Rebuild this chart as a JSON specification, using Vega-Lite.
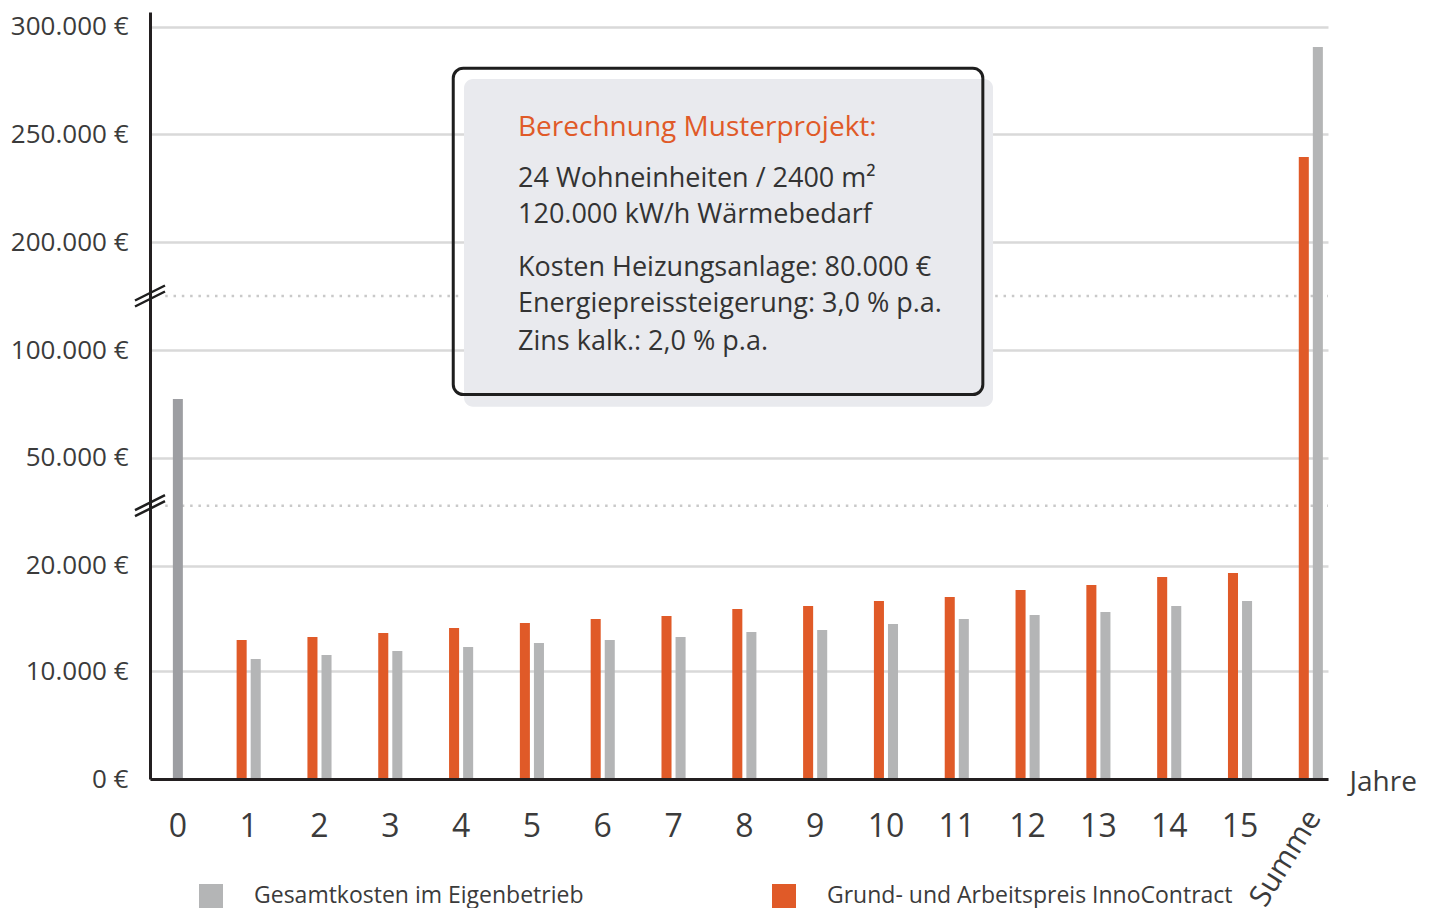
{
  "$schema": "https://vega.github.io/schema/vega-lite/v6.json",
  "width": 1178,
  "height": 767,
  "autosize": {"type": "none"},
  "padding": {"left": 150, "top": 12, "right": 104, "bottom": 129},
  "background": "white",
  "config": {
    "view": {"stroke": null},
    "font": "Open Sans",
    "text": {"font": "Open Sans"}
  },
  "datasets": {
    "kosten": [
      {"Jahr": "0", "Serie": "Gesamtkosten im Eigenbetrieb", "Wert": 77250},
      {"Jahr": "1", "Serie": "Grund- und Arbeitspreis InnoContract", "Wert": 12940},
      {"Jahr": "1", "Serie": "Gesamtkosten im Eigenbetrieb", "Wert": 11140},
      {"Jahr": "2", "Serie": "Grund- und Arbeitspreis InnoContract", "Wert": 13220},
      {"Jahr": "2", "Serie": "Gesamtkosten im Eigenbetrieb", "Wert": 11520},
      {"Jahr": "3", "Serie": "Grund- und Arbeitspreis InnoContract", "Wert": 13600},
      {"Jahr": "3", "Serie": "Gesamtkosten im Eigenbetrieb", "Wert": 11900},
      {"Jahr": "4", "Serie": "Grund- und Arbeitspreis InnoContract", "Wert": 14080},
      {"Jahr": "4", "Serie": "Gesamtkosten im Eigenbetrieb", "Wert": 12280},
      {"Jahr": "5", "Serie": "Grund- und Arbeitspreis InnoContract", "Wert": 14550},
      {"Jahr": "5", "Serie": "Gesamtkosten im Eigenbetrieb", "Wert": 12650},
      {"Jahr": "6", "Serie": "Grund- und Arbeitspreis InnoContract", "Wert": 14930},
      {"Jahr": "6", "Serie": "Gesamtkosten im Eigenbetrieb", "Wert": 12940},
      {"Jahr": "7", "Serie": "Grund- und Arbeitspreis InnoContract", "Wert": 15210},
      {"Jahr": "7", "Serie": "Gesamtkosten im Eigenbetrieb", "Wert": 13220},
      {"Jahr": "8", "Serie": "Grund- und Arbeitspreis InnoContract", "Wert": 15880},
      {"Jahr": "8", "Serie": "Gesamtkosten im Eigenbetrieb", "Wert": 13700},
      {"Jahr": "9", "Serie": "Grund- und Arbeitspreis InnoContract", "Wert": 16160},
      {"Jahr": "9", "Serie": "Gesamtkosten im Eigenbetrieb", "Wert": 13890},
      {"Jahr": "10", "Serie": "Grund- und Arbeitspreis InnoContract", "Wert": 16640},
      {"Jahr": "10", "Serie": "Gesamtkosten im Eigenbetrieb", "Wert": 14460},
      {"Jahr": "11", "Serie": "Grund- und Arbeitspreis InnoContract", "Wert": 17010},
      {"Jahr": "11", "Serie": "Gesamtkosten im Eigenbetrieb", "Wert": 14930},
      {"Jahr": "12", "Serie": "Grund- und Arbeitspreis InnoContract", "Wert": 17680},
      {"Jahr": "12", "Serie": "Gesamtkosten im Eigenbetrieb", "Wert": 15310},
      {"Jahr": "13", "Serie": "Grund- und Arbeitspreis InnoContract", "Wert": 18150},
      {"Jahr": "13", "Serie": "Gesamtkosten im Eigenbetrieb", "Wert": 15590},
      {"Jahr": "14", "Serie": "Grund- und Arbeitspreis InnoContract", "Wert": 18910},
      {"Jahr": "14", "Serie": "Gesamtkosten im Eigenbetrieb", "Wert": 16160},
      {"Jahr": "15", "Serie": "Grund- und Arbeitspreis InnoContract", "Wert": 19290},
      {"Jahr": "15", "Serie": "Gesamtkosten im Eigenbetrieb", "Wert": 16640},
      {"Jahr": "Summe", "Serie": "Grund- und Arbeitspreis InnoContract", "Wert": 239450},
      {"Jahr": "Summe", "Serie": "Gesamtkosten im Eigenbetrieb", "Wert": 290570}
    ]
  },
  "resolve": {"scale": {"x": "independent"}},
  "layer": [
    {
      "data": {"values": [{"Bruch": 150000}, {"Bruch": 36640}]},
      "mark": {"type": "rule", "color": "#c9c9c9", "strokeWidth": 2.5, "strokeDash": [2.5, 5.8]},
      "encoding": {
        "x": {"datum": -0.18, "type": "quantitative", "scale": {"domain": [-0.395, 16.243], "nice": false, "zero": false}, "axis": null},
        "x2": {"datum": 16.243},
        "y": {"field": "Bruch", "type": "quantitative", "title": null, "scale": {"domain": [0, 10000, 20000, 50000, 100000, 200000, 306830], "range": [767, 659, 553.5, 445.7, 338, 230, 0], "nice": false, "zero": false}}
      }
    },
    {
      "data": {"name": "kosten"},
      "layer": [
        {
          "transform": [{"filter": "datum.Jahr !== '0'"}],
          "mark": {"type": "bar"},
          "encoding": {
            "x": {
              "field": "Jahr", "type": "nominal",
              "scale": {"domain": ["0","1","2","3","4","5","6","7","8","9","10","11","12","13","14","15","Summe"], "paddingInner": 0.6, "paddingOuter": 0.118, "align": 0.82},
              "axis": {
                "title": "Jahre", "titleX": 1199, "titleY": 11, "titleAlign": "left", "titleBaseline": "alphabetic", "titleAngle": 0,
                "titleFontSize": 28, "titleFontWeight": "normal", "titleColor": "#3b3b3b", "titleFont": "Open Sans",
                "labelExpr": "datum.value === 'Summe' ? '' : datum.label",
                "labelFont": "Open Sans", "labelFontSize": 32, "labelColor": "#3b3b3b", "labelPadding": 32, "labelAngle": 0,
                "labelOverlap": false, "labelBound": false, "labelFlush": false,
                "ticks": false, "domainColor": "#231f20", "domainWidth": 3, "zindex": 1, "grid": false
              }
            },
            "xOffset": {"field": "Serie", "type": "nominal", "scale": {"domain": ["Grund- und Arbeitspreis InnoContract", "Gesamtkosten im Eigenbetrieb"], "paddingInner": 0.286, "paddingOuter": 0.15}},
            "y": {
              "field": "Wert", "type": "quantitative", "title": null,
              "scale": {"domain": [0, 10000, 20000, 50000, 100000, 200000, 306830], "range": [767, 659, 553.5, 445.7, 338, 230, 0], "nice": false, "zero": false},
              "axis": {
                "values": [0, 10000, 20000, 50000, 100000, 200000, 250000, 300000],
                "labelExpr": "replace(format(datum.value, ',d'), ',', '.') + ' €'",
                "labelFont": "Open Sans", "labelFontSize": 26, "labelColor": "#3b3b3b", "labelPadding": 22,
                "labelOverlap": false, "labelBound": false, "labelFlush": false,
                "ticks": false, "domainColor": "#231f20", "domainWidth": 3,
                "grid": true, "gridColor": "#d9d9d9", "gridWidth": 2.5, "title": null
              }
            },
            "color": {
              "field": "Serie", "type": "nominal",
              "scale": {"domain": ["Gesamtkosten im Eigenbetrieb", "Grund- und Arbeitspreis InnoContract"], "range": ["#b4b5b6", "#e05a28"]},
              "legend": {
                "orient": "none", "legendX": 49, "legendY": 872, "direction": "horizontal", "title": null,
                "symbolType": "square", "symbolSize": 576, "symbolStrokeWidth": 0, "symbolOpacity": 1,
                "labelFont": "Open Sans", "labelFontSize": 23, "labelColor": "#3b3b3b", "labelOffset": 31,
                "columnPadding": 188, "padding": 0, "labelLimit": 600
              }
            }
          }
        },
        {
          "transform": [{"filter": "datum.Jahr === '0'"}],
          "mark": {"type": "bar", "color": "#9d9ea2", "width": 10},
          "encoding": {
            "x": {"field": "Jahr", "type": "nominal", "scale": {"domain": ["0","1","2","3","4","5","6","7","8","9","10","11","12","13","14","15","Summe"], "paddingInner": 0.6, "paddingOuter": 0.118, "align": 0.82}},
            "y": {"field": "Wert", "type": "quantitative", "title": null, "scale": {"domain": [0, 10000, 20000, 50000, 100000, 200000, 306830], "range": [767, 659, 553.5, 445.7, 338, 230, 0], "nice": false, "zero": false}}
          }
        },
        {
          "data": {"values": [{"Jahr": "Summe"}]},
          "mark": {"type": "text", "angle": -58, "align": "right", "baseline": "middle", "dx": -27, "dy": 21, "fontSize": 30, "color": "#3b3b3b"},
          "encoding": {
            "text": {"field": "Jahr"},
            "x": {"field": "Jahr", "type": "nominal", "scale": {"domain": ["0","1","2","3","4","5","6","7","8","9","10","11","12","13","14","15","Summe"], "paddingInner": 0.6, "paddingOuter": 0.118, "align": 0.82}},
            "y": {"datum": 0, "type": "quantitative", "scale": {"domain": [0, 10000, 20000, 50000, 100000, 200000, 306830], "range": [767, 659, 553.5, 445.7, 338, 230, 0], "nice": false, "zero": false}}
          }
        }
      ]
    },
    {
      "layer": [
        {
          "data": {"values": [{"Kasten": "Berechnung Musterprojekt"}]},
          "mark": {"type": "rect", "fill": "#e9eaee", "cornerRadius": 9},
          "encoding": {
            "x": {"datum": 4.04, "type": "quantitative", "scale": {"domain": [-0.395, 16.243], "nice": false, "zero": false}, "axis": null},
            "x2": {"datum": 11.512},
            "y": {"datum": 275708, "type": "quantitative", "title": null, "scale": {"domain": [0, 10000, 20000, 50000, 100000, 200000, 306830], "range": [767, 659, 553.5, 445.7, 338, 230, 0], "nice": false, "zero": false}},
            "y2": {"datum": 73677}
          }
        },
        {
          "data": {"values": [{"Kasten": "Berechnung Musterprojekt"}]},
          "mark": {"type": "rect", "fill": null, "fillOpacity": 0, "stroke": "#1e1e1e", "strokeWidth": 3, "cornerRadius": 10},
          "encoding": {
            "x": {"datum": 3.888, "type": "quantitative"},
            "x2": {"datum": 11.368},
            "y": {"datum": 280724, "type": "quantitative"},
            "y2": {"datum": 79341}
          }
        },
        {
          "data": {"values": [{"Zeile": "Berechnung Musterprojekt:"}]},
          "mark": {"type": "text", "align": "left", "baseline": "alphabetic", "fontSize": 28, "color": "#e05a28"},
          "encoding": {"text": {"field": "Zeile"}, "x": {"datum": 4.803, "type": "quantitative"}, "y": {"datum": 249234, "type": "quantitative"}}
        },
        {
          "data": {"values": [{"Zeile": "24 Wohneinheiten / 2400 m²"}]},
          "mark": {"type": "text", "align": "left", "baseline": "alphabetic", "fontSize": 27, "color": "#333333"},
          "encoding": {"text": {"field": "Zeile"}, "x": {"datum": 4.803, "type": "quantitative"}, "y": {"datum": 225407, "type": "quantitative"}}
        },
        {
          "data": {"values": [{"Zeile": "120.000 kW/h Wärmebedarf"}]},
          "mark": {"type": "text", "align": "left", "baseline": "alphabetic", "fontSize": 27, "color": "#333333"},
          "encoding": {"text": {"field": "Zeile"}, "x": {"datum": 4.803, "type": "quantitative"}, "y": {"datum": 208686, "type": "quantitative"}}
        },
        {
          "data": {"values": [{"Zeile": "Kosten Heizungsanlage: 80.000 €"}]},
          "mark": {"type": "text", "align": "left", "baseline": "alphabetic", "fontSize": 27, "color": "#333333"},
          "encoding": {"text": {"field": "Zeile"}, "x": {"datum": 4.803, "type": "quantitative"}, "y": {"datum": 168519, "type": "quantitative"}}
        },
        {
          "data": {"values": [{"Zeile": "Energiepreissteigerung: 3,0 % p.a."}]},
          "mark": {"type": "text", "align": "left", "baseline": "alphabetic", "fontSize": 27, "color": "#333333"},
          "encoding": {"text": {"field": "Zeile"}, "x": {"datum": 4.803, "type": "quantitative"}, "y": {"datum": 135463, "type": "quantitative"}}
        },
        {
          "data": {"values": [{"Zeile": "Zins kalk.: 2,0 % p.a."}]},
          "mark": {"type": "text", "align": "left", "baseline": "alphabetic", "fontSize": 27, "color": "#333333"},
          "encoding": {"text": {"field": "Zeile"}, "x": {"datum": 4.803, "type": "quantitative"}, "y": {"datum": 100000, "type": "quantitative"}}
        },
        {
          "data": {"values": [{"Bruch": 150000}, {"Bruch": 36640}]},
          "mark": {"type": "point", "shape": "M-1,0.3L1,-0.7M-1,0.7L1,-0.3", "size": 900, "filled": false, "stroke": "#1e1e1e", "strokeWidth": 2.5, "opacity": 1},
          "encoding": {"x": {"datum": -0.395, "type": "quantitative"}, "y": {"field": "Bruch", "type": "quantitative"}}
        }
      ]
    }
  ]
}
